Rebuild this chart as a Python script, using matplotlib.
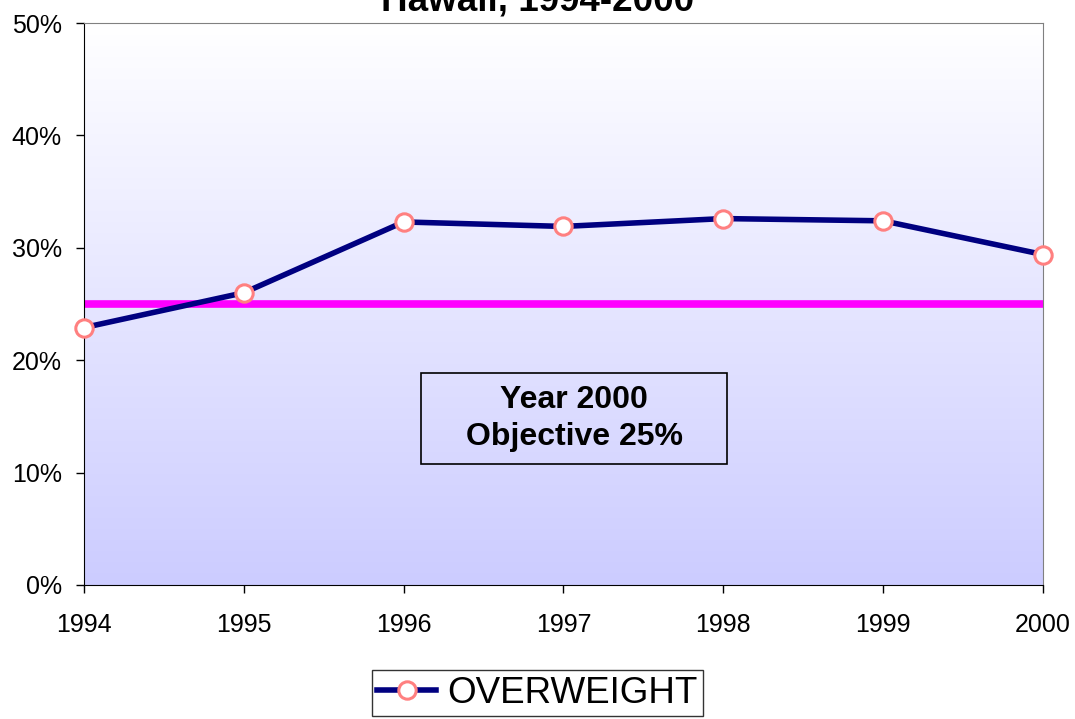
import matplotlib
matplotlib.use('Agg')
import matplotlib.pyplot as plt
import numpy as np
from matplotlib.patches import Rectangle

plt.rcParams['font.family'] = ['Liberation Sans', 'DejaVu Sans']

# Datos
anios = [1994, 1995, 1996, 1997, 1998, 1999, 2000]
sobrepeso = [22.9, 26.0, 32.3, 31.9, 32.6, 32.4, 29.4]
objetivo = 25
etiquetas_y = ['0%', '10%', '20%', '30%', '40%', '50%']
valores_y = [0, 10, 20, 30, 40, 50]

fig = plt.figure(figsize=(10.75, 7.19), dpi=100)
ax = fig.add_axes([0.0781, 0.1864, 0.8921, 0.7816])

# Fondo con degradado (blanco arriba, lavanda abajo)
degradado = np.linspace(0, 1, 256).reshape(-1, 1)
colores = np.ones((256, 1, 3))
colores[:, 0, 0] = 1 - 0.2 * degradado[:, 0]
colores[:, 0, 1] = 1 - 0.2 * degradado[:, 0]
ax.imshow(colores, extent=[0, 1, 0, 1], transform=ax.transAxes,
          aspect='auto', zorder=0, origin='upper')

ax.axhline(objetivo, color='#ff00ff', lw=5.5, zorder=2, solid_capstyle='round')
ax.plot(anios, sobrepeso, color='#000080', lw=4, marker='o', markersize=12.5,
        markerfacecolor='white', markeredgecolor='#ff8080', markeredgewidth=2.2,
        label='OVERWEIGHT', zorder=3, clip_on=False)

ax.set_xlim(1994, 2000)
ax.set_ylim(0, 50)
ax.set_xticks(anios)
ax.set_xticklabels([str(a) for a in anios])
ax.set_yticks(valores_y)
ax.set_yticklabels(etiquetas_y)
ax.tick_params(axis='both', direction='out', length=6, width=1, labelsize=18)
ax.tick_params(axis='y', pad=10)
ax.tick_params(axis='x', pad=14)

for lado in ['top', 'right']:
    ax.spines[lado].set_color('#808080')
for lado in ['left', 'bottom']:
    ax.spines[lado].set_color('black')

# Cuadro de texto del objetivo
ax.add_patch(Rectangle((0.3514, 0.2153), 0.3191, 0.1619, transform=ax.transAxes,
                       fill=False, edgecolor='black', lw=1.2, zorder=4))
ax.text(0.511, 0.296, 'Year 2000\nObjective 25%', transform=ax.transAxes,
        ha='center', va='center', fontsize=23, fontweight='bold',
        linespacing=1.3, zorder=5)

fig.text(0.5, 1 - 10 / 719, 'Hawaii, 1994-2000', ha='center', va='baseline',
         fontsize=26.5, fontweight='bold')

leg = fig.legend(loc='upper center', bbox_to_anchor=(0.5, 1 - 670 / 719),
                 fontsize=26.5, frameon=True, fancybox=False, edgecolor='black',
                 handlelength=1.6, handletextpad=0.3, borderpad=0.15,
                 borderaxespad=0)
leg.get_frame().set_linewidth(1.0)

fig.savefig('out.png', dpi=100)
